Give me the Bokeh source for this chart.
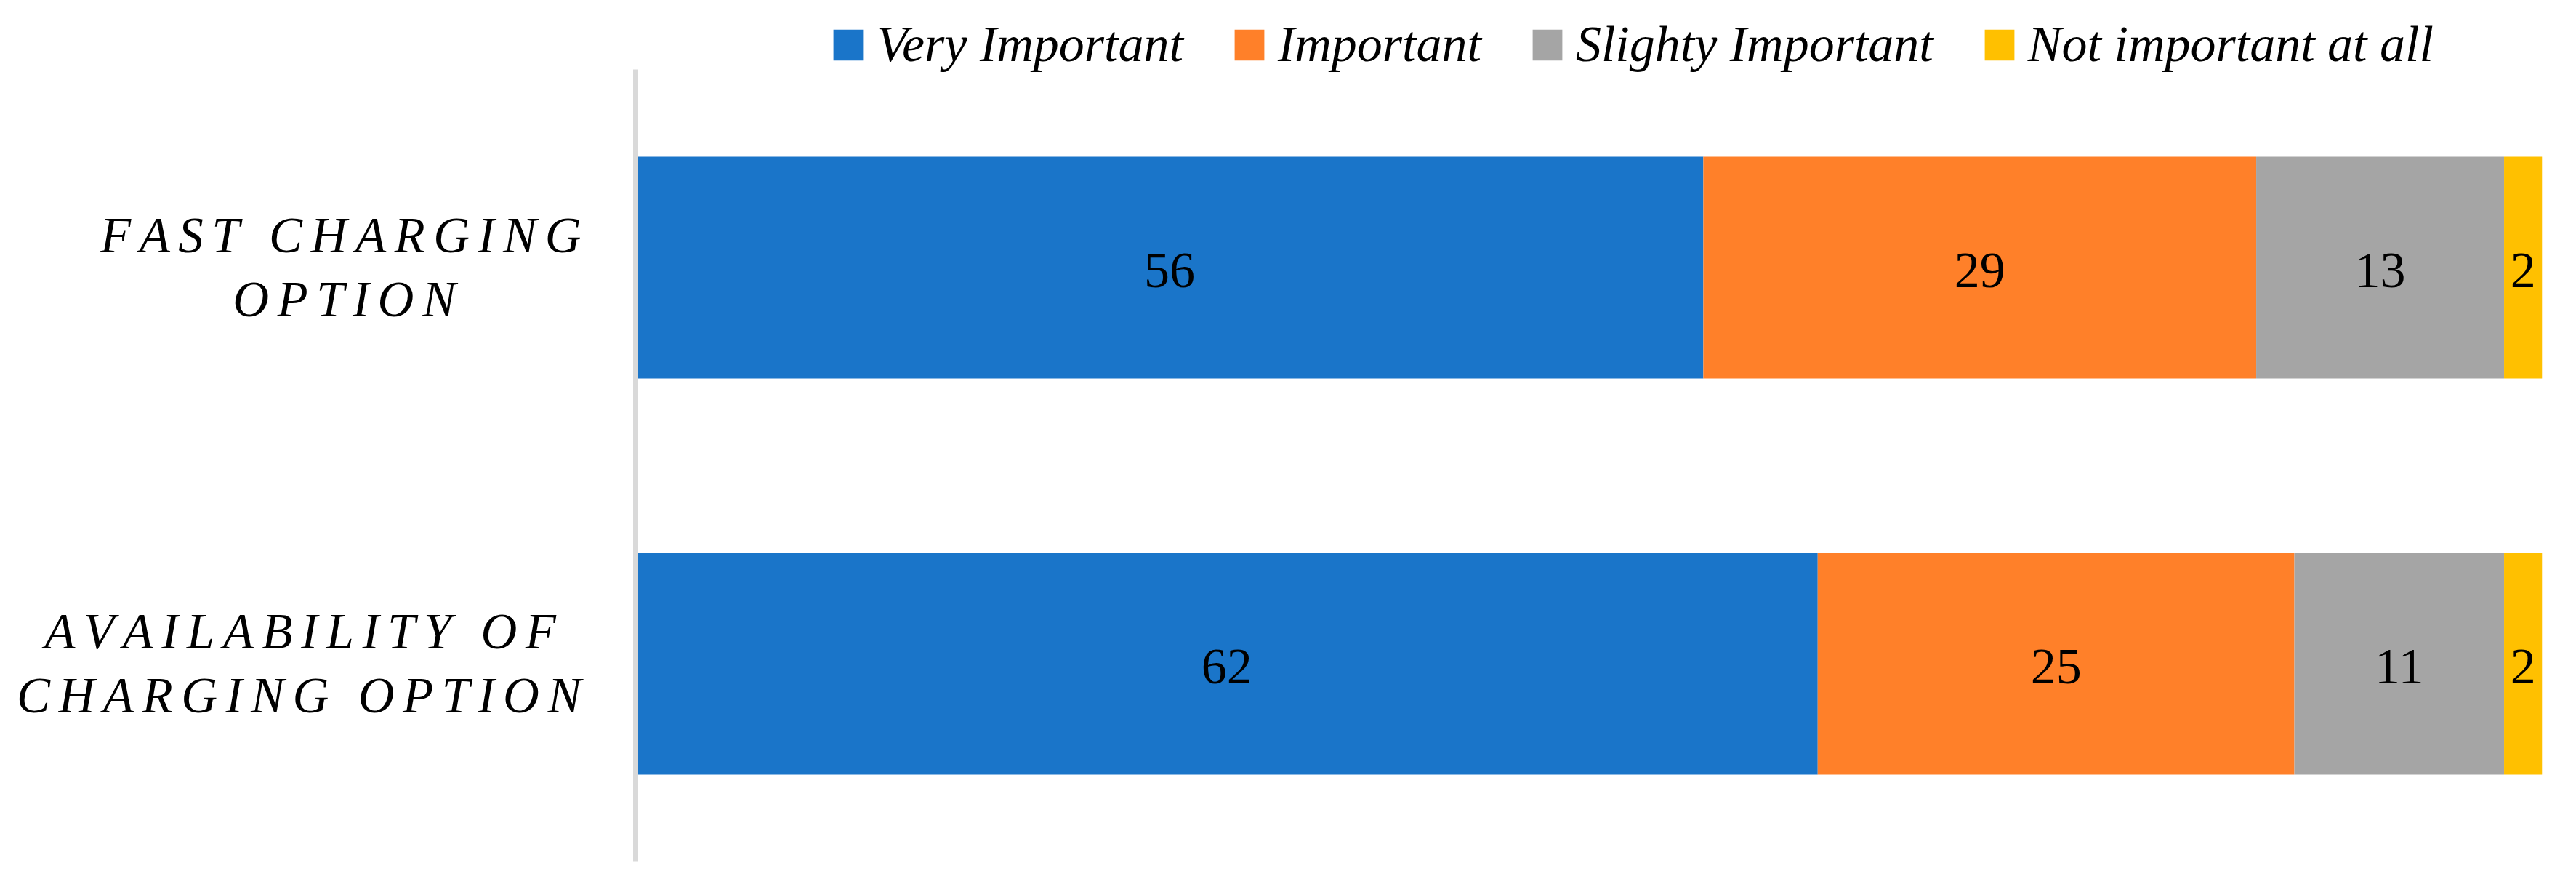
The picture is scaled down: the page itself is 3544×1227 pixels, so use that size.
from bokeh.plotting import figure
from bokeh.models import ColumnDataSource, Range1d, Legend, LegendItem, FixedTicker
from bokeh.core.properties import value
from bokeh.embed import file_html
from bokeh.resources import INLINE

# ---- data ----
categories = ["AVAILABILITY OF CHARGING OPTION", "FAST CHARGING OPTION"]
category_lines = {
    "AVAILABILITY OF CHARGING OPTION": [("AVAILABILITY OF", 1), ("CHARGING OPTION", 0)],
    "FAST CHARGING OPTION": [("FAST CHARGING", 0), ("OPTION", 5)],
}
series = ["Very Important", "Important", "Slighty Important", "Not important at all"]
very_important = [62, 56]
important = [25, 29]
slighty_important = [11, 13]
not_important = [2, 2]
colors = ["#1A75C9", "#FF8029", "#A5A5A5", "#FFC000"]

values = [very_important, important, slighty_important, not_important]
keys = ["v0", "v1", "v2", "v3"]

FONT = "Liberation Serif"

W, H = 3544, 1227
BORDER_L, BORDER_R, BORDER_B = 874, 47, 42
ROW_PX = 545          # pixel height of one category slot
PLOT_TOP_GAP = 95     # space between canvas top and first slot (legend area)


def spaced(s, pad):
    # letter-spaced text, padded on the right (en spaces) so lines look centred
    return "\u200a\u200a".join(list(s)) + "\u2002" * pad


ys = [i + 0.5 for i in range(len(categories))]
labels = {y: "\n".join(spaced(l, n) for l, n in category_lines[c]) for y, c in zip(ys, categories)}

data = {"y": ys, "cat": categories}
for k, v in zip(keys, values):
    data[k] = v
source = ColumnDataSource(data)

n = len(categories)
p = figure(
    width=W, height=H,
    y_range=Range1d(0, n + PLOT_TOP_GAP / ROW_PX),
    x_range=Range1d(0, 100),
    output_backend="svg", toolbar_location=None,
    min_border_left=BORDER_L, min_border_right=BORDER_R,
    min_border_top=0, min_border_bottom=BORDER_B,
)
p.outline_line_color = None
p.xgrid.visible = False
p.ygrid.visible = False
p.xaxis.visible = False

renderers = p.hbar_stack(keys, y="y", height=0.56, color=colors, source=source,
                         line_color=None)

# data labels
lx, ly, lt = [], [], []
for i, y in enumerate(ys):
    left = 0
    for v in values:
        val = v[i]
        lx.append(left + val / 2)
        ly.append(y)
        lt.append(str(val))
        left += val
p.text(x=lx, y=ly, text=lt, text_align="center", text_baseline="middle",
       y_offset=4,
       text_font=value(FONT), text_font_size="70px", text_color="#000000")

# y axis
yax = p.yaxis[0]
yax.ticker = FixedTicker(ticks=ys)
yax.bounds = (0, n)
yax.major_label_overrides = labels
yax.axis_line_color = "#D9D9D9"
yax.axis_line_width = 7
yax.major_tick_line_color = None
yax.minor_tick_line_color = None
yax.major_tick_out = 0
yax.minor_tick_out = 0
yax.major_label_standoff = 75
yax.major_label_text_font = FONT
yax.major_label_text_font_style = "italic"
yax.major_label_text_font_size = "69px"
yax.major_label_text_line_height = 1.15
yax.major_label_text_color = "#000000"

legend = Legend(
    items=[LegendItem(label=s, renderers=[r]) for s, r in zip(series, renderers)],
    orientation="horizontal", location=(267, 1084),
    label_text_font=FONT, label_text_font_style="italic", label_text_font_size="70px",
    label_text_color="#000000",
    glyph_width=51, glyph_height=53, label_standoff=14, spacing=65,
    padding=0, margin=0, border_line_alpha=0,
    background_fill_alpha=0,
)
p.add_layout(legend, "center")

open("out.html", "w").write(file_html(p, INLINE))
